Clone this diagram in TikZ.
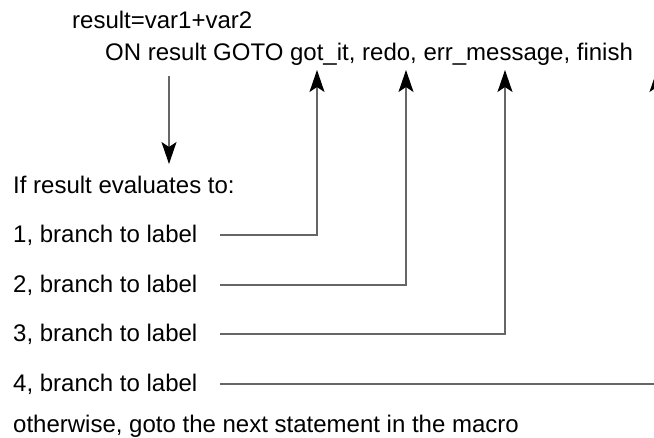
\documentclass[tikz,border=0pt]{standalone}
\usepackage{fontspec}
\setmainfont{Liberation Sans}
\usetikzlibrary{arrows.meta}
\begin{document}
\begin{tikzpicture}[x=1pt,y=-1pt,
  txt/.style={anchor=base west,inner sep=0pt,font=\fontsize{24}{28}\selectfont},
  wire/.style={draw=black!60,line width=1.3pt},
  jump/.style={wire,-{Stealth[length=22pt,width=15pt,inset=5pt,color=black]}}]
  \useasboundingbox (0,0) rectangle (654,438);
  \clip (0,0) rectangle (654,438);

  % statement lines
  \node[txt] (assign) at (72,29) {result=var1+var2};
  \node[txt] (ongoto) at (105,61) {ON result GOTO got\_it, redo, err\_message, finish};

  % explanation lines
  \node[txt] (intro) at (13,194) {If result evaluates to:};
  \node[txt] (c1) at (13,243) {1, branch to label};
  \node[txt] (c2) at (13,293) {2, branch to label};
  \node[txt] (c3) at (13,342) {3, branch to label};
  \node[txt] (c4) at (13,392) {4, branch to label};
  \node[txt] (other) at (13,433) {otherwise, goto the next statement in the macro};

  % branch endpoints
  \coordinate (src) at (169,76);
  \coordinate (dst) at (169,164);
  \coordinate (s1) at (220,235);
  \coordinate (s2) at (220,285);
  \coordinate (s3) at (220,334);
  \coordinate (s4) at (220,384);
  \coordinate (t1) at (317,70);
  \coordinate (t2) at (406,70);
  \coordinate (t3) at (505,70);
  \coordinate (t4) at (657,70);

  % evaluation arrow
  \draw[jump] (src) -- (dst);

  % branch connectors
  \draw[jump] (s1) -| (t1);
  \draw[jump] (s2) -| (t2);
  \draw[jump] (s3) -| (t3);
  \draw[jump] (s4) -| (t4);
\end{tikzpicture}
\end{document}
